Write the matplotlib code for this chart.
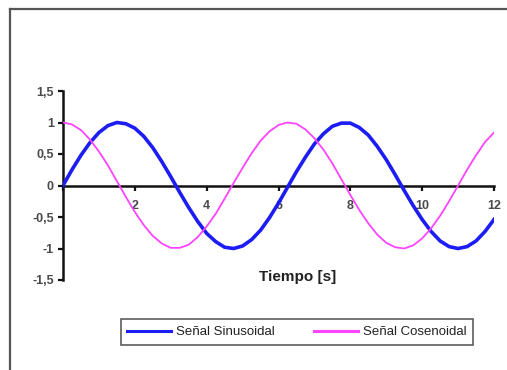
import matplotlib
matplotlib.use("Agg")
import matplotlib.pyplot as plt
from matplotlib.lines import Line2D

plt.rcParams['font.family'] = ['Liberation Sans', 'DejaVu Sans']

# tiempo [s], muestreado cada 0,25 s
tiempo = [0, 0.25, 0.5, 0.75, 1, 1.25, 1.5, 1.75, 2, 2.25, 2.5, 2.75,
          3, 3.25, 3.5, 3.75, 4, 4.25, 4.5, 4.75, 5, 5.25, 5.5, 5.75,
          6, 6.25, 6.5, 6.75, 7, 7.25, 7.5, 7.75, 8, 8.25, 8.5, 8.75,
          9, 9.25, 9.5, 9.75, 10, 10.25, 10.5, 10.75, 11, 11.25, 11.5, 11.75, 12]

senal_sin = [0.00, 0.25, 0.48, 0.68, 0.84, 0.95, 1.00, 0.98, 0.91, 0.78, 0.60, 0.38,
             0.14, -0.11, -0.35, -0.57, -0.76, -0.89, -0.98, -1.00, -0.96, -0.86, -0.71, -0.51,
             -0.28, -0.03, 0.22, 0.45, 0.66, 0.82, 0.94, 0.99, 0.99, 0.92, 0.80, 0.62,
             0.41, 0.17, -0.08, -0.32, -0.54, -0.73, -0.88, -0.97, -1.00, -0.97, -0.88, -0.73, -0.54]

senal_cos = [1.00, 0.97, 0.88, 0.73, 0.54, 0.32, 0.07, -0.18, -0.42, -0.63, -0.80, -0.92,
             -0.99, -0.99, -0.94, -0.82, -0.65, -0.45, -0.21, 0.04, 0.28, 0.51, 0.71, 0.86,
             0.96, 1.00, 0.98, 0.89, 0.75, 0.57, 0.35, 0.10, -0.15, -0.39, -0.60, -0.78,
             -0.91, -0.98, -1.00, -0.95, -0.84, -0.68, -0.48, -0.25, 0.00, 0.25, 0.48, 0.69, 0.84]

xticks = [0, 2, 4, 6, 8, 10, 12]
xtick_labels = ['', '2', '4', '6', '8', '10', '12']
yticks = [-1.5, -1, -0.5, 0, 0.5, 1, 1.5]
ytick_labels = ['-1,5', '-1', '-0,5', '0', '0,5', '1', '1,5']

W, H = 507, 370
fig = plt.figure(figsize=(W / 100, H / 100), dpi=100)
ax = fig.add_axes([63 / W, 1 - 280 / H, (494 - 63) / W, (280 - 91) / H])

# marco exterior del grafico (sale por la derecha y por abajo)
frame_c = '#555555'
fig.add_artist(Line2D([10 / W, 10 / W], [0, 1 - 9 / H], color=frame_c, lw=1.6,
                      transform=fig.transFigure, solid_capstyle='projecting'))
fig.add_artist(Line2D([10 / W, 1.0], [1 - 9 / H, 1 - 9 / H], color=frame_c, lw=1.6,
                      transform=fig.transFigure, solid_capstyle='projecting'))

ax.plot(tiempo, senal_sin, color='#1c1cf5', lw=2.6, label='Señal Sinusoidal', zorder=3)
ax.plot(tiempo, senal_cos, color='#ff44ff', lw=1.3, label='Señal Cosenoidal', zorder=3)

ax.set_xlim(0, 12)
ax.set_ylim(-1.5, 1.5)
ax.spines['top'].set_visible(False)
ax.spines['right'].set_visible(False)
ax.spines['bottom'].set_position(('data', 0))
for s in ('left', 'bottom'):
    ax.spines[s].set_linewidth(1.8)
    ax.spines[s].set_color('#111111')
ax.patch.set_alpha(0)

ax.set_xticks(xticks)
ax.set_xticklabels(xtick_labels)
ax.set_yticks(yticks)
ax.set_yticklabels(ytick_labels)
ax.tick_params(axis='both', direction='out', length=3.5, width=1.6, color='#111111',
               labelsize=9)
ax.tick_params(axis='x', pad=7)
ax.tick_params(axis='y', pad=3)
for lbl in ax.get_xticklabels() + ax.get_yticklabels():
    lbl.set_fontweight('bold')
    lbl.set_color('#4a4a4a')

fig.text(298 / W, 1 - 277 / H, 'Tiempo [s]', ha='center', va='center',
         fontsize=11, fontweight='bold', color='#222222')

leg = fig.legend(loc='center', bbox_to_anchor=(297 / W, 1 - 332 / H), ncol=2,
                 fontsize=9.5, frameon=True, fancybox=False, handlelength=3.3,
                 handletextpad=0.4, columnspacing=3.0, borderpad=0.5)
leg.get_frame().set_edgecolor('#333333')
leg.get_frame().set_linewidth(1.2)
for text in leg.get_texts():
    text.set_color('#222222')
for line in leg.get_lines():
    line.set_linewidth(2.2)

fig.savefig('out.png', dpi=100)
